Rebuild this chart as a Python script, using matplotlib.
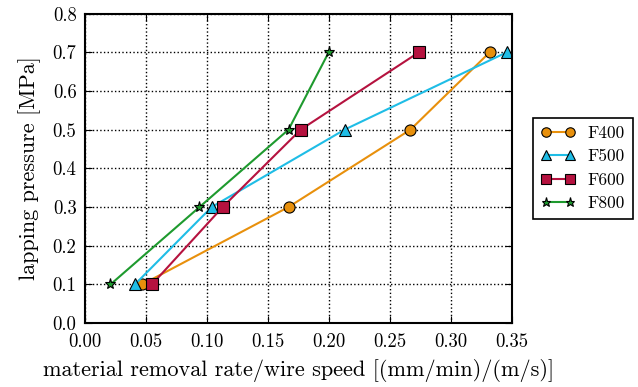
import matplotlib
matplotlib.use("Agg")
import matplotlib.pyplot as plt

plt.rcParams['font.family'] = 'cmr10'
plt.rcParams['mathtext.fontset'] = 'cm'
plt.rcParams['axes.formatter.use_mathtext'] = True
plt.rcParams['font.size'] = 13

# lapping pressure levels [MPa]
pressure = [0.1, 0.3, 0.5, 0.7]

# material removal rate / wire speed per grit size
f400 = [0.047, 0.167, 0.267, 0.332]
f500 = [0.041, 0.104, 0.213, 0.346]
f600 = [0.055, 0.113, 0.177, 0.274]
f800 = [0.021, 0.094, 0.167, 0.200]

labels = ['F400', 'F500', 'F600', 'F800']
colors = ['#e8900c', '#1fbde6', '#b5123f', '#1e9a2e']
markers = ['o', '^', 's', '*']
sizes = [8, 8, 8, 8]

fig = plt.figure(figsize=(6.38, 3.87), dpi=100)
ax = fig.add_axes([0.133, 0.165, 0.669, 0.8])

for xs, lab, c, m, s in zip([f400, f500, f600, f800], labels, colors, markers, sizes):
    ax.plot(xs, pressure, color=c, marker=m, markersize=s, markerfacecolor=c,
            markeredgecolor='black', markeredgewidth=0.8, linewidth=1.5, label=lab)

ax.set_xlim(0, 0.35)
ax.set_ylim(0, 0.8)
ax.set_xticks([0.0, 0.05, 0.10, 0.15, 0.20, 0.25, 0.30, 0.35])
ax.set_xticklabels(['0.00', '0.05', '0.10', '0.15', '0.20', '0.25', '0.30', '0.35'])
ax.set_yticks([0.0, 0.1, 0.2, 0.3, 0.4, 0.5, 0.6, 0.7, 0.8])
ax.set_yticklabels(['0.0', '0.1', '0.2', '0.3', '0.4', '0.5', '0.6', '0.7', '0.8'])
ax.tick_params(direction='in', top=True, right=True, length=5, width=0.8, labelsize=13.5)
ax.tick_params(axis='x', pad=7)
ax.tick_params(axis='y', pad=6)
ax.grid(True, color='black', linestyle=':', linewidth=1.0)
for sp in ax.spines.values():
    sp.set_linewidth(1.5)

ax.set_xlabel('material removal rate/wire speed [(mm/min)/(m/s)]', fontsize=16, labelpad=6)
ax.set_ylabel('lapping pressure [MPa]', fontsize=16, labelpad=8)

leg = ax.legend(loc='center left', bbox_to_anchor=(1.03, 0.5), numpoints=2,
                fancybox=False, framealpha=1, edgecolor='black', fontsize=12.5,
                handlelength=2.0, borderpad=0.45, labelspacing=0.45,
                handletextpad=0.7, markerscale=0.85)
leg.get_frame().set_linewidth(1.2)

fig.savefig('out.png', dpi=100)
